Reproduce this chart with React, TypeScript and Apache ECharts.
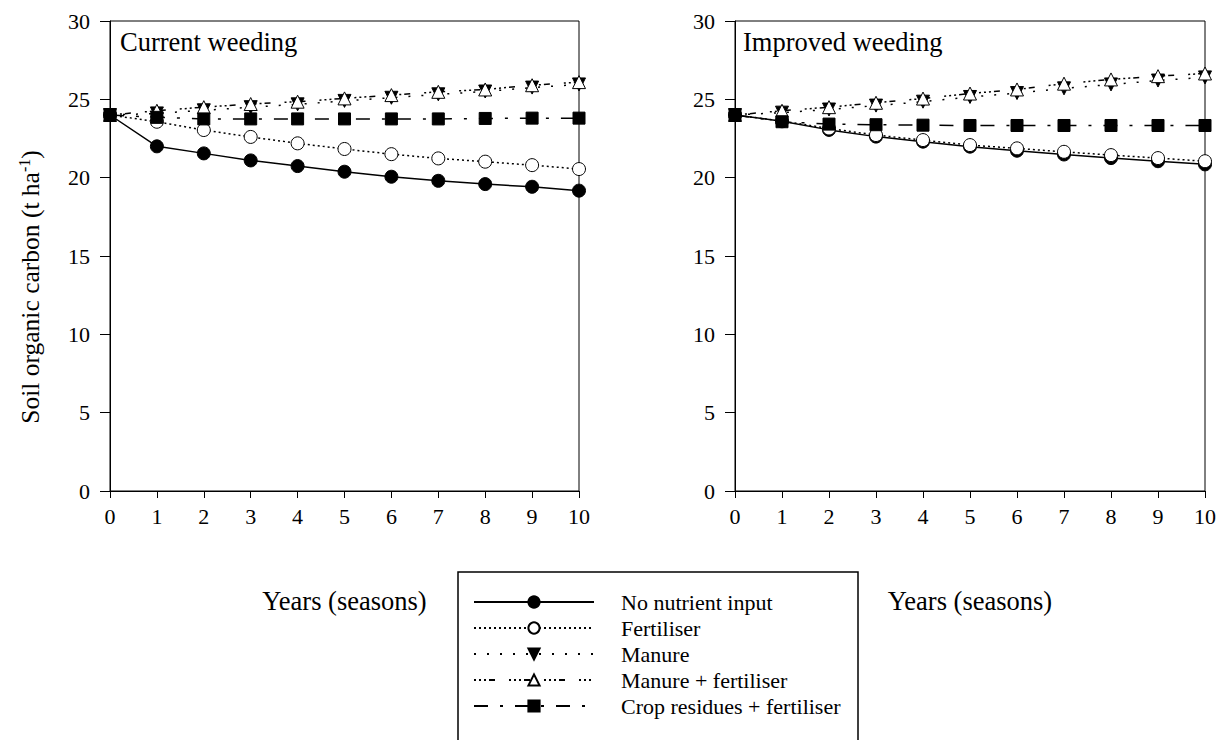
import React, { useEffect, useRef } from "react";
import * as echarts from "echarts";

const years = [0, 1, 2, 3, 4, 5, 6, 7, 8, 9, 10];
const seriesNames = [
  "No nutrient input",
  "Fertiliser",
  "Manure",
  "Manure + fertiliser",
  "Crop residues + fertiliser",
];
const panelTitles = ["Current weeding", "Improved weeding"];
const xTitle = "Years (seasons)";

// Current weeding
const curNoInput = [24.0, 22.0, 21.55, 21.1, 20.74, 20.38, 20.06, 19.8, 19.59, 19.42, 19.17];
const curFert = [24.0, 23.57, 23.04, 22.6, 22.19, 21.83, 21.5, 21.23, 21.02, 20.8, 20.55];
const curManure = [24.0, 24.1, 24.3, 24.5, 24.68, 24.9, 25.1, 25.32, 25.5, 25.75, 25.95];
const curManureFert = [24.0, 24.27, 24.5, 24.7, 24.85, 25.06, 25.27, 25.48, 25.63, 25.9, 26.1];
const curResidues = [24.0, 23.85, 23.75, 23.75, 23.75, 23.75, 23.75, 23.75, 23.78, 23.8, 23.8];

// Improved weeding
const impNoInput = [24.0, 23.6, 23.05, 22.62, 22.3, 21.98, 21.72, 21.48, 21.25, 21.05, 20.85];
const impFert = [24.0, 23.62, 23.14, 22.72, 22.4, 22.08, 21.87, 21.65, 21.44, 21.25, 21.05];
const impManure = [24.0, 24.15, 24.35, 24.6, 24.85, 25.15, 25.4, 25.7, 25.95, 26.2, 26.4];
const impManureFert = [24.0, 24.27, 24.5, 24.78, 25.05, 25.37, 25.63, 26.0, 26.27, 26.48, 26.65];
const impResidues = [24.0, 23.57, 23.42, 23.38, 23.35, 23.33, 23.33, 23.33, 23.33, 23.33, 23.33];

const yTicks = { min: 0, max: 30, interval: 5 };
const xTicks = { min: 0, max: 10, interval: 1 };

const FONT = "Liberation Serif";

export default function App() {
  const ref = useRef<HTMLDivElement>(null);

  useEffect(() => {
    if (!ref.current) return;
    const chart = echarts.init(ref.current, undefined, { renderer: "svg" });

    const styles = [
      { symbol: "circle", fill: "#000", rotate: 0, dash: "solid" as any },
      { symbol: "circle", fill: "#fff", rotate: 0, dash: [2, 3] },
      { symbol: "triangle", fill: "#000", rotate: 180, dash: [2, 11] },
      { symbol: "triangle", fill: "#fff", rotate: 0, dash: [2, 3, 2, 3, 2, 3, 6, 14] },
      { symbol: "rect", fill: "#000", rotate: 0, dash: [14, 12, 3, 12] },
    ];

    const panels = [
      [curNoInput, curFert, curManure, curManureFert, curResidues],
      [impNoInput, impFert, impManure, impManureFert, impResidues],
    ];

    const series: any[] = [];
    panels.forEach((vals, p) => {
      vals.forEach((arr, i) => {
        const st = styles[i];
        series.push({
          name: seriesNames[i],
          type: "line",
          xAxisIndex: p,
          yAxisIndex: p,
          data: years.map((y, k) => [y, arr[k]]),
          symbol: st.symbol,
          symbolSize: i === 4 ? 12 : 13,
          symbolRotate: st.rotate,
          showAllSymbol: true,
          lineStyle: { color: "#000", width: 1.5, type: st.dash },
          itemStyle: { color: st.fill, borderColor: "#000", borderWidth: 1 },
          emphasis: { disabled: true },
          z: 2 + i,
        });
      });
    });

    const grids = [
      { left: 110, top: 21, width: 469, height: 470 },
      { left: 735, top: 21, width: 471, height: 470 },
    ];

    const axisText = { color: "#000", fontFamily: FONT, fontSize: 22 };

    chart.setOption({
      animation: false,
      backgroundColor: "#fff",
      textStyle: { fontFamily: FONT },
      grid: grids.map((g) => ({
        ...g,
        show: true,
        borderColor: "#000",
        borderWidth: 1,
        backgroundColor: "transparent",
      })),
      xAxis: grids.map((_, p) => ({
        type: "value",
        gridIndex: p,
        min: xTicks.min,
        max: xTicks.max,
        interval: xTicks.interval,
        name: xTitle,
        nameLocation: "middle",
        nameGap: 96,
        nameTextStyle: { color: "#000", fontFamily: FONT, fontSize: 26.5 },
        axisLine: { lineStyle: { color: "#000", width: 1 } },
        axisTick: { length: 7, lineStyle: { color: "#000" } },
        axisLabel: { ...axisText, margin: 14 },
        splitLine: { show: false },
      })),
      yAxis: grids.map((_, p) => ({
        type: "value",
        gridIndex: p,
        min: yTicks.min,
        max: yTicks.max,
        interval: yTicks.interval,
        axisLine: { show: true, lineStyle: { color: "#000", width: 1 } },
        axisTick: { length: 10, lineStyle: { color: "#000" } },
        axisLabel: { ...axisText, margin: 20 },
        splitLine: { show: false },
      })),
      legend: {
        data: seriesNames,
        orient: "vertical",
        left: 473,
        top: 591,
        itemWidth: 120,
        itemHeight: 14,
        itemGap: 4,
        padding: 0,
        textStyle: { color: "#000", fontFamily: FONT, fontSize: 22, padding: [0, 0, 0, 22] },
        selectedMode: false,
      },
      graphic: [
        {
          type: "rect",
          shape: { x: 458, y: 572, width: 400, height: 200 },
          style: { fill: "none", stroke: "#000", lineWidth: 1.5 },
          silent: true,
        },
        {
          type: "text",
          x: 120,
          y: 28,
          style: { text: panelTitles[0], fill: "#000", fontFamily: FONT, fontSize: 26.5 },
        },
        {
          type: "text",
          x: 743,
          y: 28,
          style: { text: panelTitles[1], fill: "#000", fontFamily: FONT, fontSize: 26.5 },
        },
        {
          type: "text",
          x: 30,
          y: 287,
          rotation: Math.PI / 2,
          style: {
            text: "Soil organic carbon (t ha{sup|-1})",
            fill: "#000",
            fontFamily: FONT,
            fontSize: 25.5,
            align: "center",
            verticalAlign: "middle",
            rich: {
              sup: { fontFamily: FONT, fontSize: 16, fill: "#000", padding: [0, 0, 11, 0] },
            },
          },
        },
      ],
      series,
    });

    return () => chart.dispose();
  }, []);

  return (
    <div
      ref={ref}
      style={{ position: "fixed", left: 0, top: 0, width: 1219, height: 740, background: "#fff" }}
    />
  );
}
